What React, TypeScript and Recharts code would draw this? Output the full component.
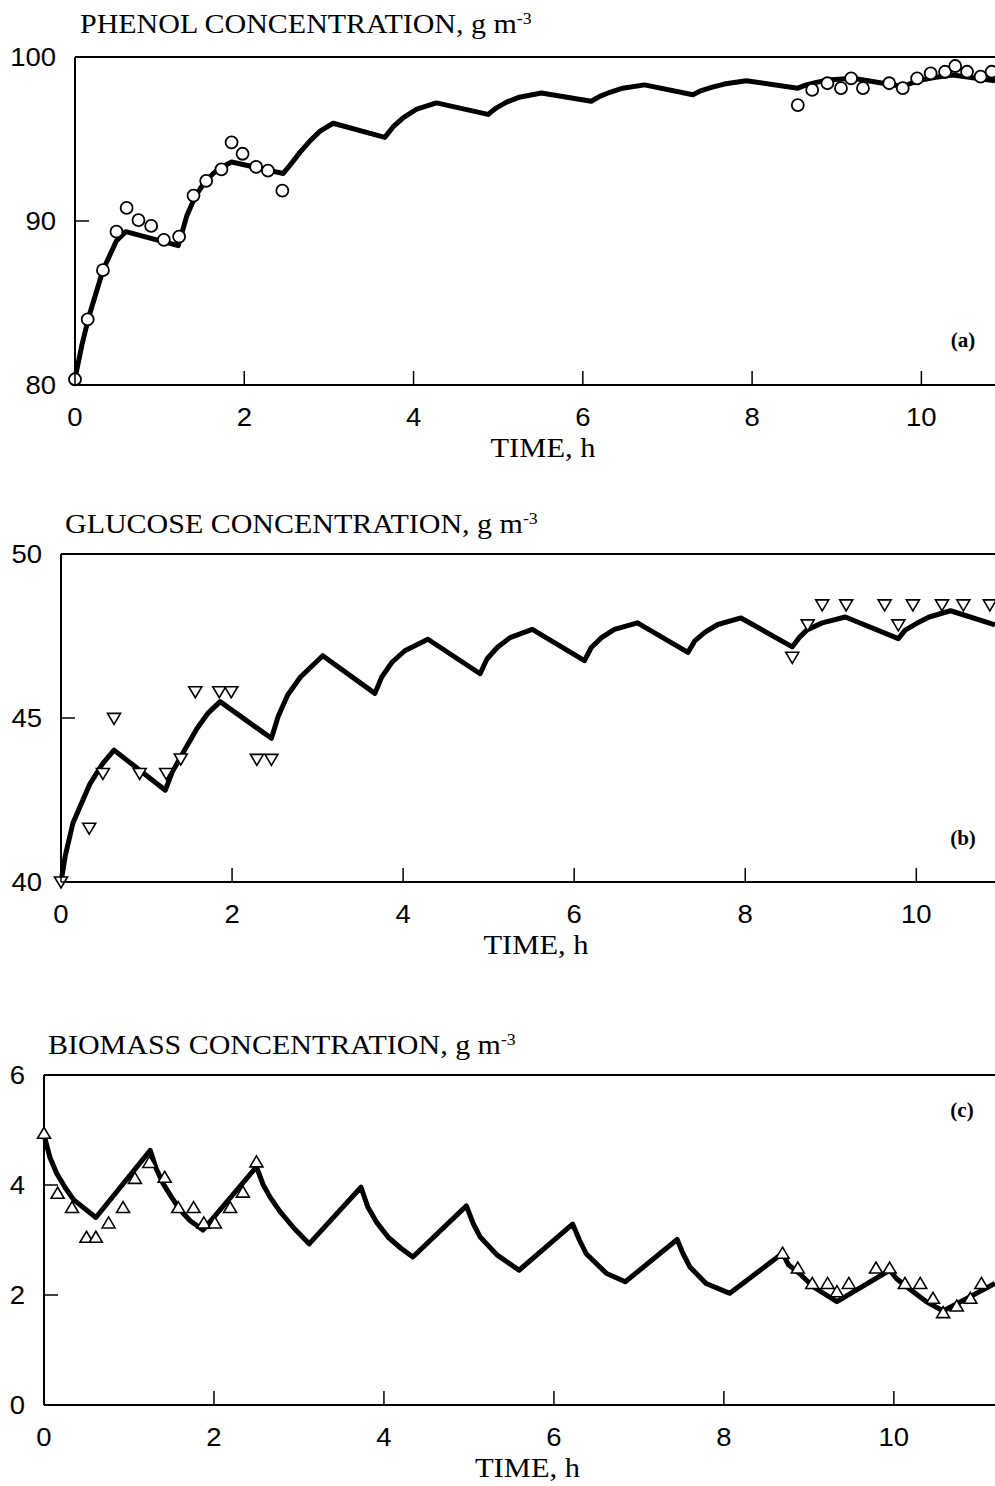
import React from 'react';
import { ComposedChart, Line, Scatter, XAxis, YAxis, ReferenceLine, Label } from 'recharts';

type Pt = [number, number];

// shared axis ticks
const timeTicks = [0, 2, 4, 6, 8, 10];
const phenolTicks = [80, 90, 100];
const glucoseTicks = [40, 45, 50];
const biomassTicks = [0, 2, 4, 6];

// (a) phenol, g m-3 : model curve and measured points [time h, conc]
const phenolModel: Pt[] = [
  [0, 80.4], [0.08, 82.4], [0.16, 84.1], [0.33, 87.0], [0.49, 88.8], [0.6, 89.35],
  [1.22, 88.5], [1.32, 90.3], [1.42, 91.5], [1.55, 92.5], [1.7, 93.2], [1.85, 93.6],
  [2.46, 92.9], [2.54, 93.4], [2.66, 94.2], [2.78, 94.9], [2.9, 95.5], [3.05, 95.96],
  [3.66, 95.1], [3.76, 95.75], [3.88, 96.3], [4.03, 96.8], [4.27, 97.2],
  [4.88, 96.5], [4.98, 96.9], [5.1, 97.25], [5.25, 97.55], [5.51, 97.8],
  [6.1, 97.3], [6.2, 97.6], [6.32, 97.85], [6.47, 98.1], [6.73, 98.3],
  [7.3, 97.7], [7.4, 97.95], [7.52, 98.15], [7.67, 98.35], [7.93, 98.55],
  [8.54, 98.1], [8.64, 98.3], [8.76, 98.45], [8.9, 98.6], [9.19, 98.7],
  [9.78, 98.2], [9.88, 98.4], [10.0, 98.6], [10.15, 98.75], [10.37, 98.9],
  [10.87, 98.55],
];
const phenolMeasured: Pt[] = [
  [0, 80.35], [0.15, 84.0], [0.33, 87.0], [0.49, 89.35], [0.61, 90.8], [0.75, 90.05],
  [0.9, 89.7], [1.05, 88.85], [1.23, 89.05], [1.4, 91.55], [1.55, 92.45], [1.73, 93.15],
  [1.85, 94.8], [1.98, 94.1], [2.14, 93.3], [2.28, 93.07], [2.45, 91.85],
  [8.54, 97.07], [8.71, 97.99], [8.89, 98.4], [9.05, 98.1], [9.17, 98.7], [9.31, 98.1],
  [9.62, 98.4], [9.78, 98.1], [9.95, 98.7], [10.11, 99.0], [10.28, 99.1], [10.4, 99.45],
  [10.54, 99.1], [10.7, 98.8], [10.83, 99.1],
];

// (b) glucose, g m-3
const glucoseModel: Pt[] = [
  [0, 40.0], [0.05, 40.8], [0.14, 41.8], [0.34, 43.0], [0.49, 43.62], [0.62, 44.02],
  [1.22, 42.8], [1.3, 43.35], [1.39, 43.77], [1.59, 44.68], [1.72, 45.15], [1.86, 45.5],
  [2.46, 44.38], [2.54, 45.05], [2.65, 45.7], [2.8, 46.25], [3.06, 46.9],
  [3.67, 45.75], [3.75, 46.25], [3.87, 46.7], [4.02, 47.05], [4.29, 47.4],
  [4.9, 46.35], [4.98, 46.8], [5.1, 47.15], [5.25, 47.45], [5.51, 47.7],
  [6.12, 46.75], [6.2, 47.15], [6.32, 47.45], [6.47, 47.7], [6.74, 47.9],
  [7.33, 47.0], [7.41, 47.35], [7.53, 47.62], [7.68, 47.85], [7.95, 48.05],
  [8.55, 47.17], [8.63, 47.45], [8.72, 47.68], [8.9, 47.9], [9.17, 48.08],
  [9.79, 47.42], [9.87, 47.68], [10.0, 47.88], [10.15, 48.08], [10.4, 48.27],
  [10.92, 47.84],
];
const glucoseMeasured: Pt[] = [
  [0, 40.0], [0.33, 41.64], [0.49, 43.31], [0.62, 44.99], [0.92, 43.31], [1.23, 43.31],
  [1.4, 43.75], [1.57, 45.8], [1.85, 45.8], [1.99, 45.8], [2.29, 43.74], [2.46, 43.74],
  [8.55, 46.85], [8.73, 47.84], [8.9, 48.45], [9.18, 48.45], [9.63, 48.45], [9.79, 47.84],
  [9.96, 48.45], [10.3, 48.45], [10.55, 48.45], [10.86, 48.45],
];

// (c) biomass, g m-3
const biomassModel: Pt[] = [
  [0, 4.91], [0.07, 4.5], [0.15, 4.21], [0.25, 3.95], [0.35, 3.73], [0.61, 3.41],
  [1.25, 4.63], [1.32, 4.3], [1.4, 4.03], [1.5, 3.78], [1.6, 3.55], [1.72, 3.35], [1.87, 3.18],
  [2.5, 4.33], [2.58, 4.0], [2.66, 3.78], [2.78, 3.51], [2.95, 3.2], [3.12, 2.93],
  [3.73, 3.96], [3.81, 3.6], [3.91, 3.33], [4.05, 3.05], [4.2, 2.85], [4.34, 2.69],
  [4.97, 3.62], [5.05, 3.3], [5.13, 3.06], [5.33, 2.73], [5.59, 2.45],
  [6.22, 3.29], [6.3, 3.0], [6.38, 2.75], [6.62, 2.39], [6.84, 2.24],
  [7.45, 3.01], [7.52, 2.75], [7.6, 2.51], [7.79, 2.21], [8.07, 2.03],
  [8.69, 2.76], [8.76, 2.55], [8.89, 2.39], [9.05, 2.15], [9.33, 1.88],
  [9.95, 2.45], [10.03, 2.3], [10.15, 2.15], [10.38, 1.88], [10.58, 1.71],
  [11.19, 2.21],
];
const biomassMeasured: Pt[] = [
  [0, 4.94], [0.16, 3.85], [0.33, 3.59], [0.5, 3.05], [0.61, 3.05], [0.76, 3.31],
  [0.93, 3.59], [1.07, 4.12], [1.24, 4.41], [1.42, 4.14], [1.58, 3.59], [1.76, 3.59],
  [1.88, 3.31], [2.01, 3.31], [2.19, 3.59], [2.34, 3.87], [2.5, 4.42],
  [8.69, 2.76], [8.87, 2.49], [9.04, 2.21], [9.22, 2.21], [9.33, 2.06], [9.47, 2.21],
  [9.79, 2.49], [9.95, 2.49], [10.13, 2.21], [10.31, 2.21], [10.46, 1.94], [10.58, 1.68],
  [10.74, 1.8], [10.9, 1.94], [11.03, 2.21],
];

const SERIF = '"Liberation Serif", "Times New Roman", serif';
const SANS = '"Liberation Sans", Arial, sans-serif';
const PAGE_W = 995;
const TOP_PAD = 20;
const X_AXIS_H = 85;

const toRows = (pts: Pt[]) => pts.map(([t, c]) => ({ t, c }));

// markers
const OpenCircle = (p: any) => (
  <circle cx={p.cx} cy={p.cy} r={6} fill="#fff" stroke="#000" strokeWidth={1.8} />
);
const TriangleUp = (p: any) => (
  <polygon
    points={`${p.cx},${p.cy - 6} ${p.cx + 6.5},${p.cy + 5} ${p.cx - 6.5},${p.cy + 5}`}
    fill="#fff" stroke="#000" strokeWidth={1.6}
  />
);
const TriangleDown = (p: any) => (
  <polygon
    points={`${p.cx},${p.cy + 6} ${p.cx + 6.5},${p.cy - 5} ${p.cx - 6.5},${p.cy - 5}`}
    fill="#fff" stroke="#000" strokeWidth={1.6}
  />
);

// inward tick marks drawn together with their (slightly wide) labels
const TimeTick = (p: any) => (
  <g>
    <line x1={p.x} y1={p.y} x2={p.x} y2={p.y - 14} stroke="#000" strokeWidth={1.5} />
    <text transform={`translate(${p.x} ${p.y + 32}) scale(1.1 1)`} textAnchor="middle"
      dominantBaseline="central" fontSize={25} fontFamily={SANS} fill="#000">{p.payload.value}</text>
  </g>
);
const ConcTick = (p: any) => (
  <g>
    <line x1={p.x} y1={p.y} x2={p.x + 14} y2={p.y} stroke="#000" strokeWidth={1.5} />
    <text transform={`translate(${p.x - 19} ${p.y}) scale(1.1 1)`} textAnchor="end"
      dominantBaseline="central" fontSize={25} fontFamily={SANS} fill="#000">{p.payload.value}</text>
  </g>
);

const TimeTitle = (p: any) => {
  const vb = p.viewBox || { x: 0, y: 0, width: 0 };
  return (
    <text transform={`translate(${vb.x + vb.width / 2 + 8} ${vb.y + 72}) scale(1.13 1)`}
      textAnchor="middle" fontSize={27} fontFamily={SERIF} fill="#000">TIME, h</text>
  );
};

interface PanelProps {
  title: string;
  tag: string;
  plotTop: number;
  plotH: number;
  plotLeft: number;
  xMax: number;
  yTicks: number[];
  model: Pt[];
  measured: Pt[];
  marker: (p: any) => React.ReactElement;
  titleX: number;
  titleY: number;
  tagX: number;
  tagY: number;
}

function Panel(props: PanelProps) {
  const { title, tag, plotTop, plotH, plotLeft, xMax, yTicks, model, measured, marker } = props;
  const yMin = yTicks[0];
  const yMax = yTicks[yTicks.length - 1];
  const chartH = TOP_PAD + plotH + X_AXIS_H;
  return (
    <>
      <div style={{
        position: 'absolute', left: props.titleX, top: props.titleY - 16, lineHeight: '32px',
        fontFamily: SERIF, fontSize: 27, whiteSpace: 'nowrap', color: '#000',
        transform: 'scaleX(1.11)', transformOrigin: 'left center',
      }}>
        {title}, g m<sup style={{ fontSize: 16, verticalAlign: 'top', lineHeight: '22px' }}>-3</sup>
      </div>
      <div style={{ position: 'absolute', left: 0, top: plotTop - TOP_PAD }}>
        <ComposedChart width={PAGE_W} height={chartH} margin={{ top: TOP_PAD, right: 0, bottom: 0, left: 0 }}>
          <XAxis
            type="number" dataKey="t" domain={[0, xMax]} ticks={timeTicks} interval={0}
            height={X_AXIS_H} tickSize={0} tickMargin={0} tickLine={false}
            axisLine={{ stroke: '#000', strokeWidth: 2 }} tick={<TimeTick />}
          >
            <Label content={<TimeTitle />} />
          </XAxis>
          <YAxis
            type="number" dataKey="c" domain={[yMin, yMax]} ticks={yTicks} interval={0}
            width={plotLeft} tickSize={0} tickMargin={0} tickLine={false}
            axisLine={{ stroke: '#000', strokeWidth: 2 }} tick={<ConcTick />}
          />
          <ReferenceLine y={yMax} stroke="#000" strokeWidth={2} />
          <Line
            data={toRows(model)} dataKey="c" type="linear" stroke="#000" strokeWidth={5}
            strokeLinejoin="round" dot={false} isAnimationActive={false}
          />
          <Scatter data={toRows(measured)} dataKey="c" shape={marker} isAnimationActive={false} />
        </ComposedChart>
      </div>
      <div style={{
        position: 'absolute', left: props.tagX - 20, top: props.tagY - 13, width: 40, lineHeight: '26px',
        textAlign: 'center', fontFamily: SERIF, fontSize: 21, fontWeight: 'bold', color: '#000',
      }}>{tag}</div>
    </>
  );
}

export default function App() {
  return (
    <div style={{ position: 'absolute', left: 0, top: 0, width: PAGE_W, height: 1486, background: '#fff', overflow: 'hidden' }}>
      <Panel
        title="PHENOL CONCENTRATION" tag="(a)"
        plotTop={57} plotH={328} plotLeft={75} xMax={10.87} yTicks={phenolTicks}
        model={phenolModel} measured={phenolMeasured} marker={OpenCircle}
        titleX={80} titleY={24} tagX={963} tagY={340}
      />
      <Panel
        title="GLUCOSE CONCENTRATION" tag="(b)"
        plotTop={554} plotH={328} plotLeft={61} xMax={10.92} yTicks={glucoseTicks}
        model={glucoseModel} measured={glucoseMeasured} marker={TriangleDown}
        titleX={65} titleY={524} tagX={963} tagY={838}
      />
      <Panel
        title="BIOMASS CONCENTRATION" tag="(c)"
        plotTop={1075} plotH={330} plotLeft={44} xMax={11.19} yTicks={biomassTicks}
        model={biomassModel} measured={biomassMeasured} marker={TriangleUp}
        titleX={48} titleY={1045} tagX={962} tagY={1110}
      />
    </div>
  );
}
